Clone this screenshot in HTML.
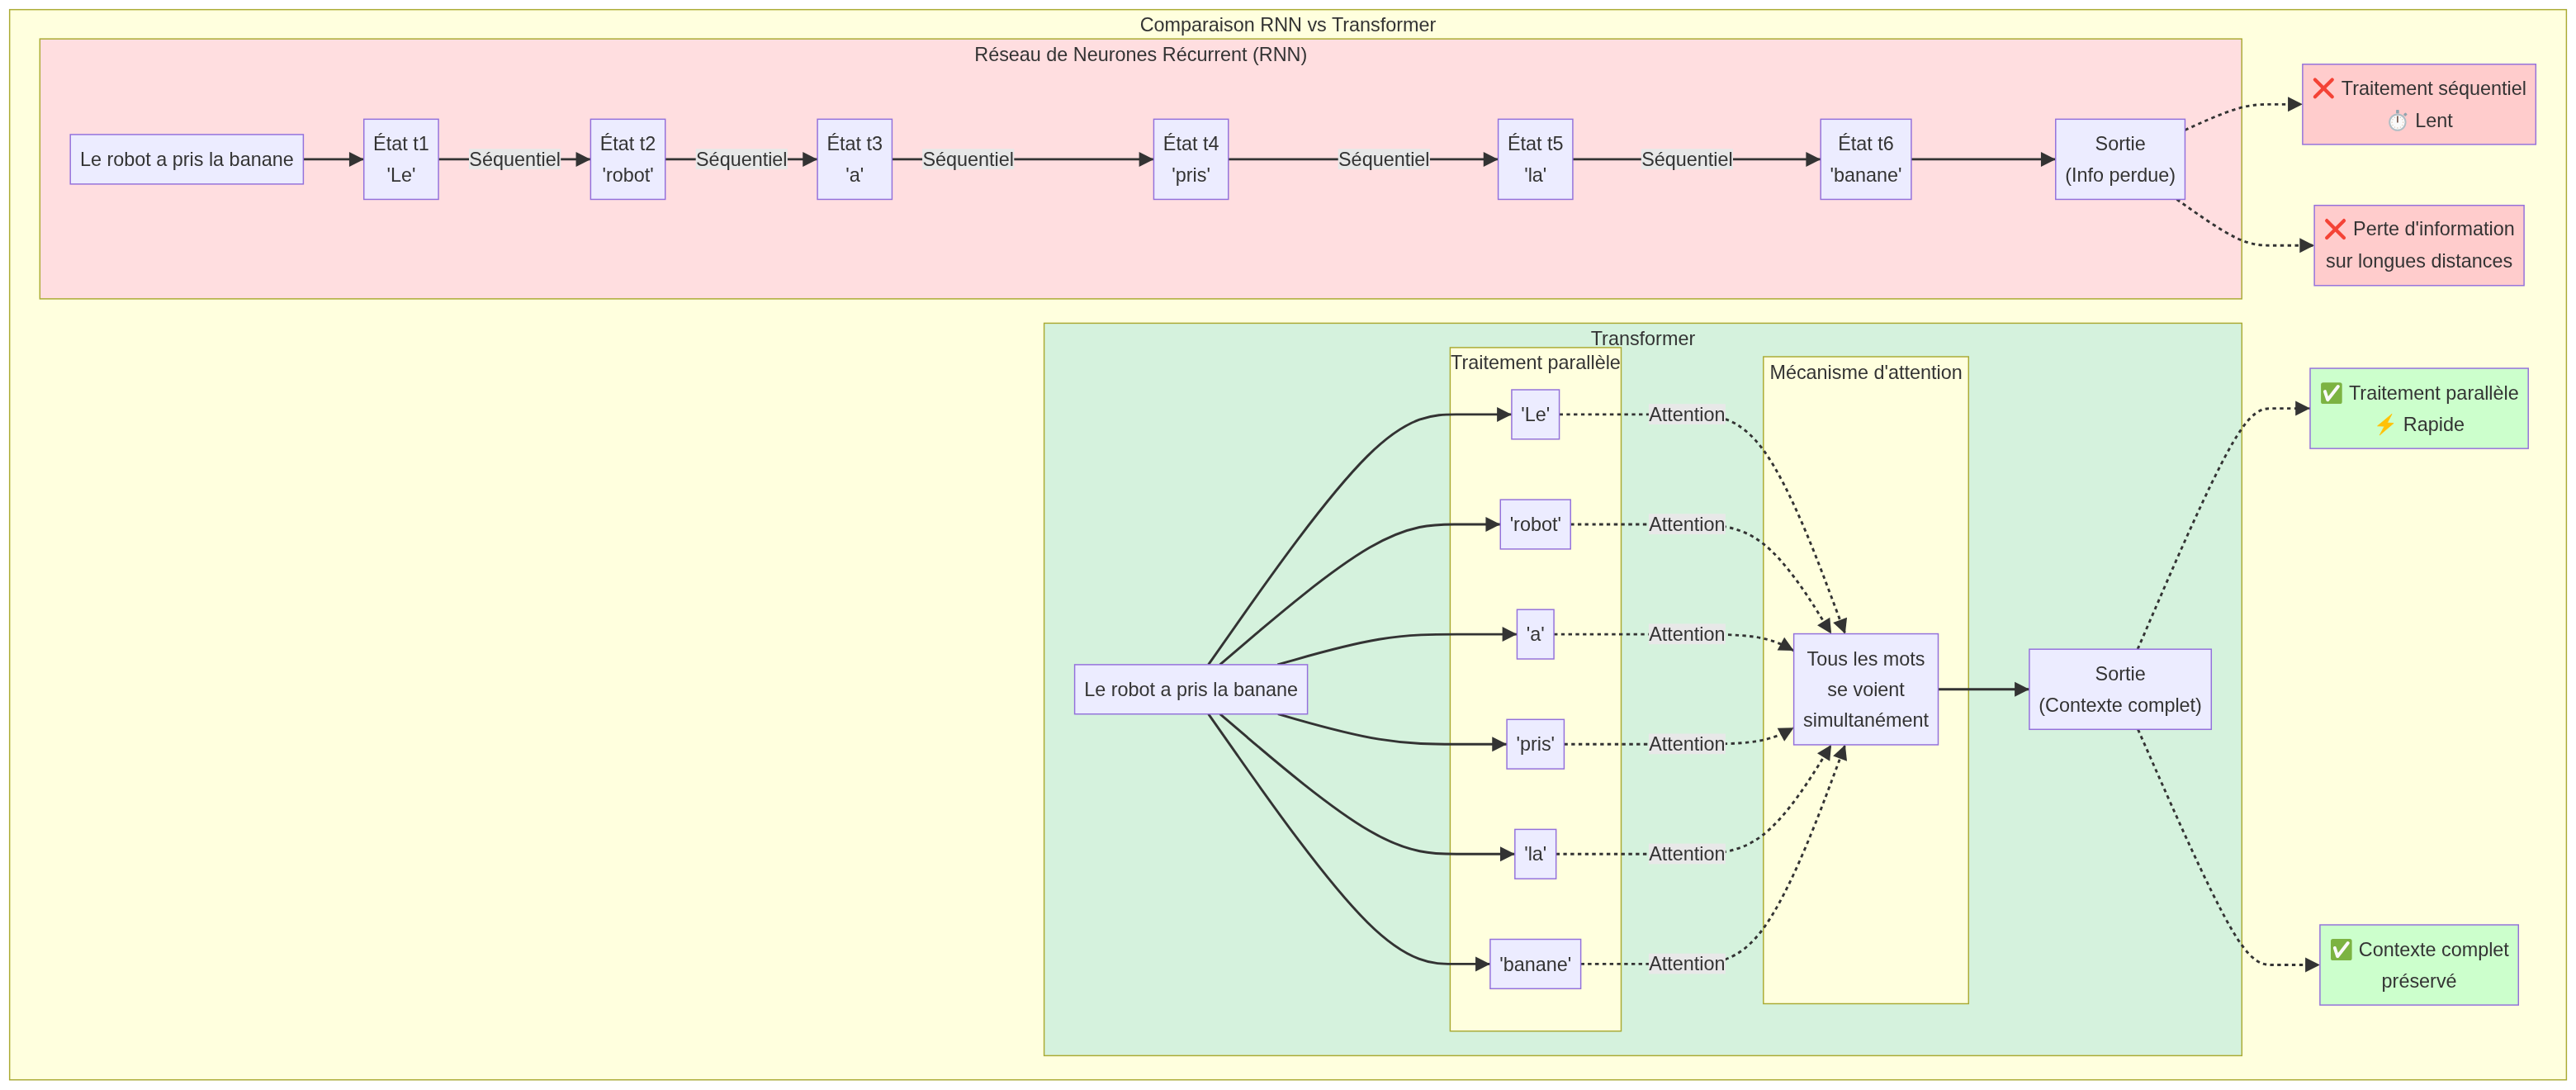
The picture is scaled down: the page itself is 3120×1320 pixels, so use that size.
<!DOCTYPE html>
<html><head><meta charset="utf-8"><style>html,body{margin:0;padding:0;background:#fff;width:3120px;height:1320px;overflow:hidden}</style></head>
<body>
<svg width="3120" height="1320" viewBox="0 0 3120 1320" style="display:block;will-change:transform;font-family:'Liberation Sans',sans-serif;font-size:23.4px;fill:#333333">
<rect x="0" y="0" width="3120" height="1320" fill="#ffffff" stroke="none"/>
<rect x="11.65" y="11.65" width="3096.75" height="1296.05" fill="#ffffde" stroke="#aaaa33" stroke-width="1.46"/>
<text x="1560.03" y="38.15" text-anchor="middle">Comparaison RNN vs Transformer</text>
<rect x="48.30" y="47.10" width="2666.90" height="314.80" fill="#ffdee0" stroke="#aaaa33" stroke-width="1.46"/>
<text x="1381.75" y="73.60" text-anchor="middle">Réseau de Neurones Récurrent (RNN)</text>
<rect x="1264.60" y="391.40" width="1450.70" height="887.00" fill="#d5f2dd" stroke="#aaaa33" stroke-width="1.46"/>
<text x="1989.95" y="417.90" text-anchor="middle">Transformer</text>
<rect x="1756.40" y="420.90" width="207.10" height="827.80" fill="#ffffde" stroke="#aaaa33" stroke-width="1.46"/>
<text x="1859.95" y="447.40" text-anchor="middle">Traitement parallèle</text>
<rect x="2135.80" y="432.00" width="248.50" height="783.50" fill="#ffffde" stroke="#aaaa33" stroke-width="1.46"/>
<text x="2260.05" y="458.50" text-anchor="middle">Mécanisme d&#39;attention</text>
<path d="M367.40,192.90L373.49,192.90C379.58,192.90,391.77,192.90,403.99,192.90C416.21,192.90,428.47,192.90,434.60,192.90L440.73,192.90" fill="none" stroke="#333333" stroke-width="2.9"/>
<polygon points="440.73,192.90 422.93,201.90 422.93,183.90" fill="#333333"/>
<path d="M531.07,192.90L546.49,192.90C561.91,192.90,592.76,192.90,623.48,192.90C654.19,192.90,684.79,192.90,700.08,192.90L715.38,192.90" fill="none" stroke="#333333" stroke-width="2.9"/>
<polygon points="715.38,192.90 697.58,201.90 697.58,183.90" fill="#333333"/>
<path d="M805.72,192.90L821.15,192.90C836.58,192.90,867.44,192.90,898.17,192.90C928.89,192.90,959.49,192.90,974.78,192.90L990.08,192.90" fill="none" stroke="#333333" stroke-width="2.9"/>
<polygon points="990.08,192.90 972.28,201.90 972.28,183.90" fill="#333333"/>
<path d="M1080.42,192.90L1095.80,192.90C1111.18,192.90,1141.94,192.90,1172.64,192.90C1203.33,192.90,1233.97,192.90,1271.42,192.90C1308.88,192.90,1353.15,192.90,1375.29,192.90L1397.43,192.90" fill="none" stroke="#333333" stroke-width="2.9"/>
<polygon points="1397.43,192.90 1379.63,201.90 1379.63,183.90" fill="#333333"/>
<path d="M1487.77,192.90L1519.19,192.90C1550.61,192.90,1613.46,192.90,1660.20,192.90C1706.95,192.90,1737.60,192.90,1760.65,192.90C1783.69,192.90,1799.14,192.90,1806.86,192.90L1814.58,192.90" fill="none" stroke="#333333" stroke-width="2.9"/>
<polygon points="1814.58,192.90 1796.78,201.90 1796.78,183.90" fill="#333333"/>
<path d="M1904.92,192.90L1912.64,192.90C1920.36,192.90,1935.81,192.90,1958.89,192.90C1981.97,192.90,2012.68,192.90,2043.37,192.90C2074.05,192.90,2104.70,192.90,2131.67,192.90C2158.63,192.90,2181.91,192.90,2193.55,192.90L2205.19,192.90" fill="none" stroke="#333333" stroke-width="2.9"/>
<polygon points="2205.19,192.90 2187.39,201.90 2187.39,183.90" fill="#333333"/>
<path d="M2314.91,192.90L2326.45,192.90C2337.99,192.90,2361.07,192.90,2378.70,192.90C2396.33,192.90,2408.52,192.90,2426.12,192.90C2443.72,192.90,2466.74,192.90,2478.25,192.90L2489.76,192.90" fill="none" stroke="#333333" stroke-width="2.9"/>
<polygon points="2489.76,192.90 2471.96,201.90 2471.96,183.90" fill="#333333"/>
<path d="M2646.44,157.47L2657.91,152.28C2669.38,147.10,2692.31,136.72,2709.87,131.54C2727.43,126.35,2739.62,126.35,2751.89,126.35C2764.16,126.35,2776.52,126.35,2782.69,126.35L2788.87,126.35" fill="none" stroke="#333333" stroke-width="2.9" stroke-dasharray="4.39 4.39"/>
<polygon points="2788.87,126.35 2771.07,135.35 2771.07,117.35" fill="#333333"/>
<path d="M2636.56,241.45L2649.68,250.75C2662.79,260.05,2689.02,278.65,2708.23,287.95C2727.43,297.25,2739.62,297.25,2754.26,297.25C2768.91,297.25,2786.01,297.25,2794.56,297.25L2803.12,297.25" fill="none" stroke="#333333" stroke-width="2.9" stroke-dasharray="4.39 4.39"/>
<polygon points="2803.12,297.25 2785.32,306.25 2785.32,288.25" fill="#333333"/>
<path d="M1463.59,804.90L1499.04,754.40C1534.49,703.90,1605.40,602.90,1656.17,552.40C1706.95,501.90,1737.60,501.90,1763.37,501.90C1789.14,501.90,1810.03,501.90,1820.47,501.90L1830.92,501.90" fill="none" stroke="#333333" stroke-width="2.9"/>
<polygon points="1830.92,501.90 1813.12,510.90 1813.12,492.90" fill="#333333"/>
<path d="M1477.57,804.90L1510.69,776.58C1543.82,748.27,1610.06,691.63,1658.50,663.32C1706.95,635.00,1737.60,635.00,1761.09,635.00C1784.59,635.00,1800.93,635.00,1809.10,635.00L1817.26,635.00" fill="none" stroke="#333333" stroke-width="2.9"/>
<polygon points="1817.26,635.00 1799.46,644.00 1799.46,626.00" fill="#333333"/>
<path d="M1547.36,804.90L1568.85,798.77C1590.34,792.63,1633.32,780.37,1670.14,774.23C1706.95,768.10,1737.60,768.10,1764.45,768.10C1791.31,768.10,1814.37,768.10,1825.90,768.10L1837.43,768.10" fill="none" stroke="#333333" stroke-width="2.9"/>
<polygon points="1837.43,768.10 1819.63,777.10 1819.63,759.10" fill="#333333"/>
<path d="M1547.84,864.70L1569.25,870.78C1590.66,876.87,1633.48,889.03,1670.21,895.12C1706.95,901.20,1737.60,901.20,1762.40,901.20C1787.19,901.20,1806.14,901.20,1815.61,901.20L1825.08,901.20" fill="none" stroke="#333333" stroke-width="2.9"/>
<polygon points="1825.08,901.20 1807.28,910.20 1807.28,892.20" fill="#333333"/>
<path d="M1477.63,864.70L1510.74,892.97C1543.85,921.23,1610.08,977.77,1658.51,1006.03C1706.95,1034.30,1737.60,1034.30,1764.02,1034.30C1790.44,1034.30,1812.63,1034.30,1823.73,1034.30L1834.83,1034.30" fill="none" stroke="#333333" stroke-width="2.9"/>
<polygon points="1834.83,1034.30 1817.03,1043.30 1817.03,1025.30" fill="#333333"/>
<path d="M1463.61,864.70L1499.06,915.15C1534.51,965.60,1605.40,1066.50,1656.18,1116.95C1706.95,1167.40,1737.60,1167.40,1759.03,1167.40C1780.46,1167.40,1792.68,1167.40,1798.78,1167.40L1804.89,1167.40" fill="none" stroke="#333333" stroke-width="2.9"/>
<polygon points="1804.89,1167.40 1787.09,1176.40 1787.09,1158.40" fill="#333333"/>
<path d="M1888.58,501.90L1899.03,501.90C1909.47,501.90,1930.36,501.90,1956.16,501.90C1981.97,501.90,2012.68,501.90,2043.37,501.90C2074.05,501.90,2104.70,501.90,2136.61,546.18C2168.52,590.45,2201.70,679.00,2218.29,723.27L2234.87,767.55" fill="none" stroke="#333333" stroke-width="2.9" stroke-dasharray="4.39 4.39"/>
<polygon points="2234.87,767.55 2220.20,754.04 2237.06,747.72" fill="#333333"/>
<path d="M1902.24,635.00L1910.40,635.00C1918.57,635.00,1934.91,635.00,1958.44,635.00C1981.97,635.00,2012.68,635.00,2043.37,635.00C2074.05,635.00,2104.70,635.00,2133.82,657.09C2162.93,679.18,2190.52,723.37,2204.31,745.46L2218.10,767.55" fill="none" stroke="#333333" stroke-width="2.9" stroke-dasharray="4.39 4.39"/>
<polygon points="2218.10,767.55 2201.04,757.22 2216.31,747.68" fill="#333333"/>
<path d="M1882.07,768.10L1893.60,768.10C1905.13,768.10,1928.19,768.10,1955.08,768.10C1981.97,768.10,2012.68,768.10,2043.37,768.10C2074.05,768.10,2104.70,768.10,2126.24,771.42C2147.77,774.74,2160.19,781.38,2166.40,784.70L2172.62,788.02" fill="none" stroke="#333333" stroke-width="2.9" stroke-dasharray="4.39 4.39"/>
<polygon points="2172.62,788.02 2152.67,787.56 2161.16,771.69" fill="#333333"/>
<path d="M1894.42,901.20L1903.89,901.20C1913.36,901.20,1932.31,901.20,1957.14,901.20C1981.97,901.20,2012.68,901.20,2043.37,901.20C2074.05,901.20,2104.70,901.20,2126.24,897.89C2147.77,894.58,2160.19,887.96,2166.40,884.65L2172.62,881.34" fill="none" stroke="#333333" stroke-width="2.9" stroke-dasharray="4.39 4.39"/>
<polygon points="2172.62,881.34 2161.14,897.66 2152.67,881.77" fill="#333333"/>
<path d="M1884.67,1034.30L1895.77,1034.30C1906.87,1034.30,1929.06,1034.30,1955.51,1034.30C1981.97,1034.30,2012.68,1034.30,2043.37,1034.30C2074.05,1034.30,2104.70,1034.30,2133.81,1012.24C2162.92,990.18,2190.49,946.07,2204.27,924.01L2218.06,901.95" fill="none" stroke="#333333" stroke-width="2.9" stroke-dasharray="4.39 4.39"/>
<polygon points="2218.06,901.95 2216.26,921.81 2200.99,912.28" fill="#333333"/>
<path d="M1914.61,1167.40L1920.72,1167.40C1926.82,1167.40,1939.04,1167.40,1960.50,1167.40C1981.97,1167.40,2012.68,1167.40,2043.37,1167.40C2074.05,1167.40,2104.70,1167.40,2136.61,1123.16C2168.52,1078.92,2201.69,990.43,2218.27,946.19L2234.86,901.95" fill="none" stroke="#333333" stroke-width="2.9" stroke-dasharray="4.39 4.39"/>
<polygon points="2234.86,901.95 2237.04,921.78 2220.18,915.46" fill="#333333"/>
<path d="M2347.48,834.75L2353.60,834.75C2359.71,834.75,2371.93,834.75,2384.13,834.75C2396.33,834.75,2408.52,834.75,2420.81,834.75C2433.10,834.75,2445.51,834.75,2451.71,834.75L2457.91,834.75" fill="none" stroke="#333333" stroke-width="2.9"/>
<polygon points="2457.91,834.75 2440.11,843.75 2440.11,825.75" fill="#333333"/>
<path d="M2589.10,786.20L2610.13,737.60C2631.15,689.00,2673.20,591.80,2700.32,543.20C2727.43,494.60,2739.62,494.60,2753.41,494.60C2767.20,494.60,2782.59,494.60,2790.29,494.60L2797.99,494.60" fill="none" stroke="#333333" stroke-width="2.9" stroke-dasharray="4.39 4.39"/>
<polygon points="2797.99,494.60 2780.19,503.60 2780.19,485.60" fill="#333333"/>
<path d="M2589.50,883.30L2610.46,930.84C2631.42,978.38,2673.33,1073.47,2700.38,1121.01C2727.43,1168.55,2739.62,1168.55,2755.39,1168.55C2771.17,1168.55,2790.54,1168.55,2800.22,1168.55L2809.90,1168.55" fill="none" stroke="#333333" stroke-width="2.9" stroke-dasharray="4.39 4.39"/>
<polygon points="2809.90,1168.55 2792.10,1177.55 2792.10,1159.55" fill="#333333"/>
<rect x="568.00" y="180.20" width="111.19" height="24.8" fill="#e8e8e8"/>
<text x="623.60" y="200.90" text-anchor="middle">Séquentiel</text>
<rect x="842.70" y="180.20" width="111.19" height="24.8" fill="#e8e8e8"/>
<text x="898.30" y="200.90" text-anchor="middle">Séquentiel</text>
<rect x="1117.10" y="180.20" width="111.19" height="24.8" fill="#e8e8e8"/>
<text x="1172.70" y="200.90" text-anchor="middle">Séquentiel</text>
<rect x="1620.70" y="180.20" width="111.19" height="24.8" fill="#e8e8e8"/>
<text x="1676.30" y="200.90" text-anchor="middle">Séquentiel</text>
<rect x="1987.80" y="180.20" width="111.19" height="24.8" fill="#e8e8e8"/>
<text x="2043.40" y="200.90" text-anchor="middle">Séquentiel</text>
<rect x="1996.92" y="489.20" width="92.97" height="24.8" fill="#e8e8e8"/>
<text x="2043.40" y="509.90" text-anchor="middle">Attention</text>
<rect x="1996.92" y="622.30" width="92.97" height="24.8" fill="#e8e8e8"/>
<text x="2043.40" y="643.00" text-anchor="middle">Attention</text>
<rect x="1996.92" y="755.40" width="92.97" height="24.8" fill="#e8e8e8"/>
<text x="2043.40" y="776.10" text-anchor="middle">Attention</text>
<rect x="1996.92" y="888.50" width="92.97" height="24.8" fill="#e8e8e8"/>
<text x="2043.40" y="909.20" text-anchor="middle">Attention</text>
<rect x="1996.92" y="1021.60" width="92.97" height="24.8" fill="#e8e8e8"/>
<text x="2043.40" y="1042.30" text-anchor="middle">Attention</text>
<rect x="1996.92" y="1154.70" width="92.97" height="24.8" fill="#e8e8e8"/>
<text x="2043.40" y="1175.40" text-anchor="middle">Attention</text>
<rect x="85.20" y="162.90" width="282.20" height="60.00" fill="#ECECFF" stroke="#9370DB" stroke-width="1.46"/>
<text x="226.30" y="201.00" text-anchor="middle">Le robot a pris la banane</text>
<rect x="440.73" y="144.35" width="90.34" height="97.10" fill="#ECECFF" stroke="#9370DB" stroke-width="1.46"/>
<text x="485.90" y="182.35" text-anchor="middle">État t1</text>
<text x="485.90" y="219.65" text-anchor="middle">&#39;Le&#39;</text>
<rect x="715.38" y="144.35" width="90.34" height="97.10" fill="#ECECFF" stroke="#9370DB" stroke-width="1.46"/>
<text x="760.55" y="182.35" text-anchor="middle">État t2</text>
<text x="760.55" y="219.65" text-anchor="middle">&#39;robot&#39;</text>
<rect x="990.08" y="144.35" width="90.34" height="97.10" fill="#ECECFF" stroke="#9370DB" stroke-width="1.46"/>
<text x="1035.25" y="182.35" text-anchor="middle">État t3</text>
<text x="1035.25" y="219.65" text-anchor="middle">&#39;a&#39;</text>
<rect x="1397.43" y="144.35" width="90.34" height="97.10" fill="#ECECFF" stroke="#9370DB" stroke-width="1.46"/>
<text x="1442.60" y="182.35" text-anchor="middle">État t4</text>
<text x="1442.60" y="219.65" text-anchor="middle">&#39;pris&#39;</text>
<rect x="1814.58" y="144.35" width="90.34" height="97.10" fill="#ECECFF" stroke="#9370DB" stroke-width="1.46"/>
<text x="1859.75" y="182.35" text-anchor="middle">État t5</text>
<text x="1859.75" y="219.65" text-anchor="middle">&#39;la&#39;</text>
<rect x="2205.19" y="144.35" width="109.72" height="97.10" fill="#ECECFF" stroke="#9370DB" stroke-width="1.46"/>
<text x="2260.05" y="182.35" text-anchor="middle">État t6</text>
<text x="2260.05" y="219.65" text-anchor="middle">&#39;banane&#39;</text>
<rect x="2489.76" y="144.35" width="156.68" height="97.10" fill="#ECECFF" stroke="#9370DB" stroke-width="1.46"/>
<text x="2568.10" y="182.35" text-anchor="middle">Sortie</text>
<text x="2568.10" y="219.65" text-anchor="middle">(Info perdue)</text>
<rect x="2788.87" y="77.80" width="282.45" height="97.10" fill="#ffcccc" stroke="#9370DB" stroke-width="1.46"/>
<g stroke="#f44336" stroke-width="4.3" stroke-linecap="round"><line x1="2803.92" y1="96.45" x2="2824.72" y2="117.25"/><line x1="2824.72" y1="96.45" x2="2803.92" y2="117.25"/></g>
<text x="2835.82" y="114.70">Traitement séquentiel</text>
<rect x="2902.08" y="132.90" width="3.6" height="4.6" rx="0.8" fill="#90a4ae"/>
<rect x="2911.68" y="136.80" width="3.4" height="3.6" rx="0.8" fill="#90a4ae" transform="rotate(45 2913.38 138.60)"/>
<circle cx="2903.88" cy="148.10" r="9.7" fill="#fafafa" stroke="#b0bec5" stroke-width="2"/>
<circle cx="2903.88" cy="141.30" r="0.55" fill="#c8a888"/>
<circle cx="2907.28" cy="142.21" r="0.55" fill="#c8a888"/>
<circle cx="2909.77" cy="144.70" r="0.55" fill="#c8a888"/>
<circle cx="2910.68" cy="148.10" r="0.55" fill="#c8a888"/>
<circle cx="2909.77" cy="151.50" r="0.55" fill="#c8a888"/>
<circle cx="2907.28" cy="153.99" r="0.55" fill="#c8a888"/>
<circle cx="2903.88" cy="154.90" r="0.55" fill="#c8a888"/>
<circle cx="2900.48" cy="153.99" r="0.55" fill="#c8a888"/>
<circle cx="2897.99" cy="151.50" r="0.55" fill="#c8a888"/>
<circle cx="2897.08" cy="148.10" r="0.55" fill="#c8a888"/>
<circle cx="2897.99" cy="144.70" r="0.55" fill="#c8a888"/>
<circle cx="2900.48" cy="142.21" r="0.55" fill="#c8a888"/>
<line x1="2903.88" y1="140.60" x2="2903.88" y2="148.60" stroke="#6d4c41" stroke-width="1.6"/>
<text x="2925.13" y="154.20">Lent</text>
<rect x="2803.12" y="248.70" width="253.97" height="97.10" fill="#ffcccc" stroke="#9370DB" stroke-width="1.46"/>
<g stroke="#f44336" stroke-width="4.3" stroke-linecap="round"><line x1="2818.17" y1="267.15" x2="2838.97" y2="287.95"/><line x1="2838.97" y1="267.15" x2="2818.17" y2="287.95"/></g>
<text x="2850.07" y="285.40">Perte d&#39;information</text>
<text x="2930.10" y="324.00" text-anchor="middle">sur longues distances</text>
<rect x="1301.60" y="804.90" width="282.00" height="59.80" fill="#ECECFF" stroke="#9370DB" stroke-width="1.46"/>
<text x="1442.60" y="842.90" text-anchor="middle">Le robot a pris la banane</text>
<rect x="1830.92" y="472.00" width="57.66" height="59.80" fill="#ECECFF" stroke="#9370DB" stroke-width="1.46"/>
<text x="1859.75" y="510.00" text-anchor="middle">&#39;Le&#39;</text>
<rect x="1817.26" y="605.10" width="84.97" height="59.80" fill="#ECECFF" stroke="#9370DB" stroke-width="1.46"/>
<text x="1859.75" y="643.10" text-anchor="middle">&#39;robot&#39;</text>
<rect x="1837.43" y="738.20" width="44.65" height="59.80" fill="#ECECFF" stroke="#9370DB" stroke-width="1.46"/>
<text x="1859.75" y="776.20" text-anchor="middle">&#39;a&#39;</text>
<rect x="1825.08" y="871.30" width="69.34" height="59.80" fill="#ECECFF" stroke="#9370DB" stroke-width="1.46"/>
<text x="1859.75" y="909.30" text-anchor="middle">&#39;pris&#39;</text>
<rect x="1834.83" y="1004.40" width="49.85" height="59.80" fill="#ECECFF" stroke="#9370DB" stroke-width="1.46"/>
<text x="1859.75" y="1042.40" text-anchor="middle">&#39;la&#39;</text>
<rect x="1804.89" y="1137.50" width="109.72" height="59.80" fill="#ECECFF" stroke="#9370DB" stroke-width="1.46"/>
<text x="1859.75" y="1175.50" text-anchor="middle">&#39;banane&#39;</text>
<rect x="2172.62" y="767.55" width="174.87" height="134.40" fill="#ECECFF" stroke="#9370DB" stroke-width="1.46"/>
<text x="2260.05" y="805.55" text-anchor="middle">Tous les mots</text>
<text x="2260.05" y="842.85" text-anchor="middle">se voient</text>
<text x="2260.05" y="880.15" text-anchor="middle">simultanément</text>
<rect x="2457.91" y="786.20" width="220.38" height="97.10" fill="#ECECFF" stroke="#9370DB" stroke-width="1.46"/>
<text x="2568.10" y="824.20" text-anchor="middle">Sortie</text>
<text x="2568.10" y="861.50" text-anchor="middle">(Contexte complet)</text>
<rect x="2797.99" y="446.05" width="264.23" height="97.10" fill="#ccffcc" stroke="#9370DB" stroke-width="1.46"/>
<rect x="2811.09" y="463.15" width="25.6" height="25.9" rx="2.6" fill="#7cb342"/>
<polyline points="2815.94,474.05 2819.24,484.25 2831.84,468.05" fill="none" stroke="#fafafa" stroke-width="4" stroke-linecap="round" stroke-linejoin="round"/>
<text x="2844.94" y="484.05">Traitement parallèle</text>
<polygon points="2897.07,501.35 2879.57,515.85 2887.97,516.15 2882.17,527.05 2899.07,512.55 2891.47,512.05" fill="#ffc107" stroke="#ffc107" stroke-width="0.8" stroke-linejoin="round"/>
<text x="2910.82" y="522.35">Rapide</text>
<rect x="2809.90" y="1120.00" width="240.39" height="97.10" fill="#ccffcc" stroke="#9370DB" stroke-width="1.46"/>
<rect x="2823.00" y="1137.10" width="25.6" height="25.9" rx="2.6" fill="#7cb342"/>
<polyline points="2827.85,1148.00 2831.15,1158.20 2843.75,1142.00" fill="none" stroke="#fafafa" stroke-width="4" stroke-linecap="round" stroke-linejoin="round"/>
<text x="2856.85" y="1158.00">Contexte complet</text>
<text x="2930.10" y="1196.10" text-anchor="middle">préservé</text>
</svg>
</body></html>
